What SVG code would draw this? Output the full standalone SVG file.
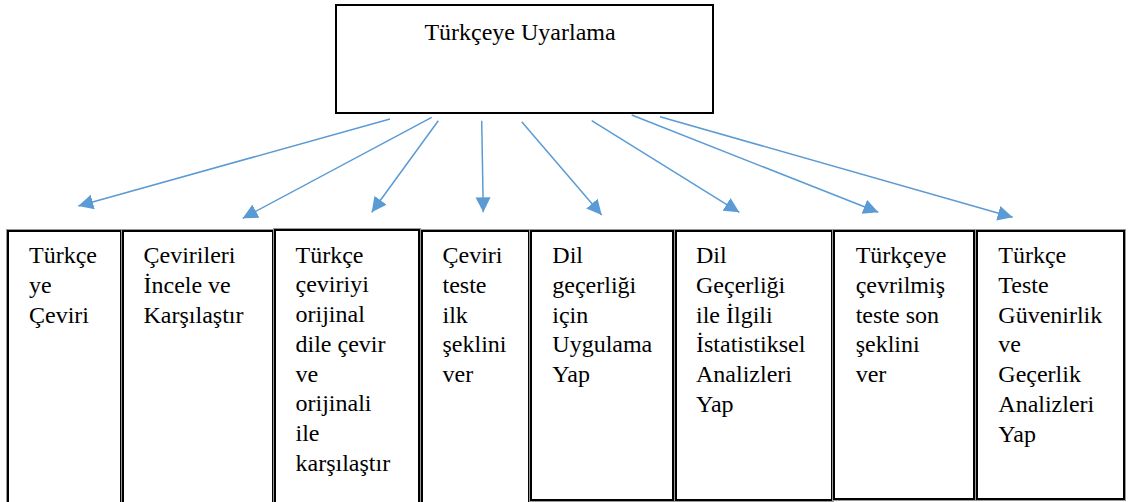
<svg xmlns="http://www.w3.org/2000/svg" width="1132" height="502" viewBox="0 0 1132 502">
<style>
.box{fill:#fff;stroke:#000;stroke-width:2}
.halo{fill:none;stroke:#9a9a9a;stroke-width:1}
.t{font-family:"Liberation Serif","Times New Roman",serif;font-size:24px;fill:#000}
.c{stroke:#5B9BD5;stroke-width:1.5;fill:none;marker-end:url(#ah)}
</style>
<defs>
<marker id="ah" markerUnits="userSpaceOnUse" markerWidth="16" markerHeight="16" refX="15" refY="7.5" orient="auto" viewBox="0 0 16 16">
<path d="M0,0 L15,7.5 L0,15 Z" fill="#5B9BD5"/>
</marker>
</defs>
<rect width="1132" height="502" fill="#fff"/>

<g id="root">
<rect class="box" x="336" y="5" width="377" height="108"/>
<text class="t" x="520" y="39.5" text-anchor="middle">Türkçeye Uyarlama</text>
</g>

<g id="connectors">
<line class="c" x1="390" y1="119" x2="78.3" y2="206"/>
<line class="c" x1="431.7" y1="117.3" x2="242.7" y2="218.3"/>
<line class="c" x1="438.3" y1="120.7" x2="371.7" y2="212.3"/>
<line class="c" x1="481.7" y1="120.7" x2="483.3" y2="212.3"/>
<line class="c" x1="521.7" y1="121.7" x2="601.7" y2="215"/>
<line class="c" x1="591.7" y1="120.7" x2="739.3" y2="212.3"/>
<line class="c" x1="631.7" y1="115" x2="878.3" y2="212.3"/>
<line class="c" x1="660" y1="116.7" x2="1012.7" y2="217.3"/>
</g>

<g id="n1">
<rect class="halo" x="6.5" y="229.5" width="116" height="280"/>
<rect class="box" x="8" y="231" width="113" height="280"/>
<text class="t"><tspan x="29" y="263.3">Türkçe</tspan><tspan x="29" y="293">ye</tspan><tspan x="29" y="322.7">Çeviri</tspan></text>
</g>

<g id="n2">
<rect class="halo" x="121.5" y="229.5" width="153" height="280"/>
<rect class="box" x="123" y="231" width="150" height="280"/>
<text class="t"><tspan x="143.5" y="263.3">Çevirileri</tspan><tspan x="143.5" y="293">İncele ve</tspan><tspan x="143.5" y="322.7">Karşılaştır</tspan></text>
</g>

<g id="n3">
<rect class="halo" x="273.5" y="228.5" width="147" height="280"/>
<rect class="box" x="275" y="230" width="144" height="280"/>
<text class="t"><tspan x="295.5" y="262.7">Türkçe</tspan><tspan x="295.5" y="292.4">çeviriyi</tspan><tspan x="295.5" y="322.1">orijinal</tspan><tspan x="295.5" y="351.8">dile çevir</tspan><tspan x="295.5" y="381.5">ve</tspan><tspan x="295.5" y="411.2">orijinali</tspan><tspan x="295.5" y="440.9">ile</tspan><tspan x="295.5" y="470.6">karşılaştır</tspan></text>
</g>

<g id="n4">
<rect class="halo" x="420.5" y="229.5" width="110" height="280"/>
<rect class="box" x="422" y="231" width="107" height="280"/>
<text class="t"><tspan x="442.5" y="263.3">Çeviri</tspan><tspan x="442.5" y="293">teste</tspan><tspan x="442.5" y="322.7">ilk</tspan><tspan x="442.5" y="352.4">şeklini</tspan><tspan x="442.5" y="382.1">ver</tspan></text>
</g>

<g id="n5">
<rect class="halo" x="529.5" y="229.5" width="145" height="272"/>
<rect class="box" x="531" y="231" width="142" height="269"/>
<text class="t"><tspan x="552.3" y="263.3">Dil</tspan><tspan x="552.3" y="293">geçerliği</tspan><tspan x="552.3" y="322.7">için</tspan><tspan x="552.3" y="352.4">Uygulama</tspan><tspan x="552.3" y="382.1">Yap</tspan></text>
</g>

<g id="n6">
<rect class="halo" x="674.5" y="229.5" width="159" height="272"/>
<rect class="box" x="676" y="231" width="156" height="269"/>
<text class="t"><tspan x="696" y="263.3">Dil</tspan><tspan x="696" y="293">Geçerliği</tspan><tspan x="696" y="322.7">ile İlgili</tspan><tspan x="696" y="352.4">İstatistiksel</tspan><tspan x="696" y="382.1">Analizleri</tspan><tspan x="696" y="411.8">Yap</tspan></text>
</g>

<g id="n7">
<rect class="halo" x="832.5" y="229.5" width="143" height="271"/>
<rect class="box" x="834" y="231" width="140" height="268"/>
<text class="t"><tspan x="855.7" y="263.3">Türkçeye</tspan><tspan x="855.7" y="293">çevrilmiş</tspan><tspan x="855.7" y="322.7">teste son</tspan><tspan x="855.7" y="352.4">şeklini</tspan><tspan x="855.7" y="382.1">ver</tspan></text>
</g>

<g id="n8">
<rect class="halo" x="975.5" y="229.5" width="150" height="271"/>
<rect class="box" x="977" y="231" width="147" height="268"/>
<text class="t"><tspan x="998.3" y="263.3">Türkçe</tspan><tspan x="998.3" y="293">Teste</tspan><tspan x="998.3" y="322.7">Güvenirlik</tspan><tspan x="998.3" y="352.4">ve</tspan><tspan x="998.3" y="382.1">Geçerlik</tspan><tspan x="998.3" y="411.8">Analizleri</tspan><tspan x="998.3" y="441.5">Yap</tspan></text>
</g>
</svg>
